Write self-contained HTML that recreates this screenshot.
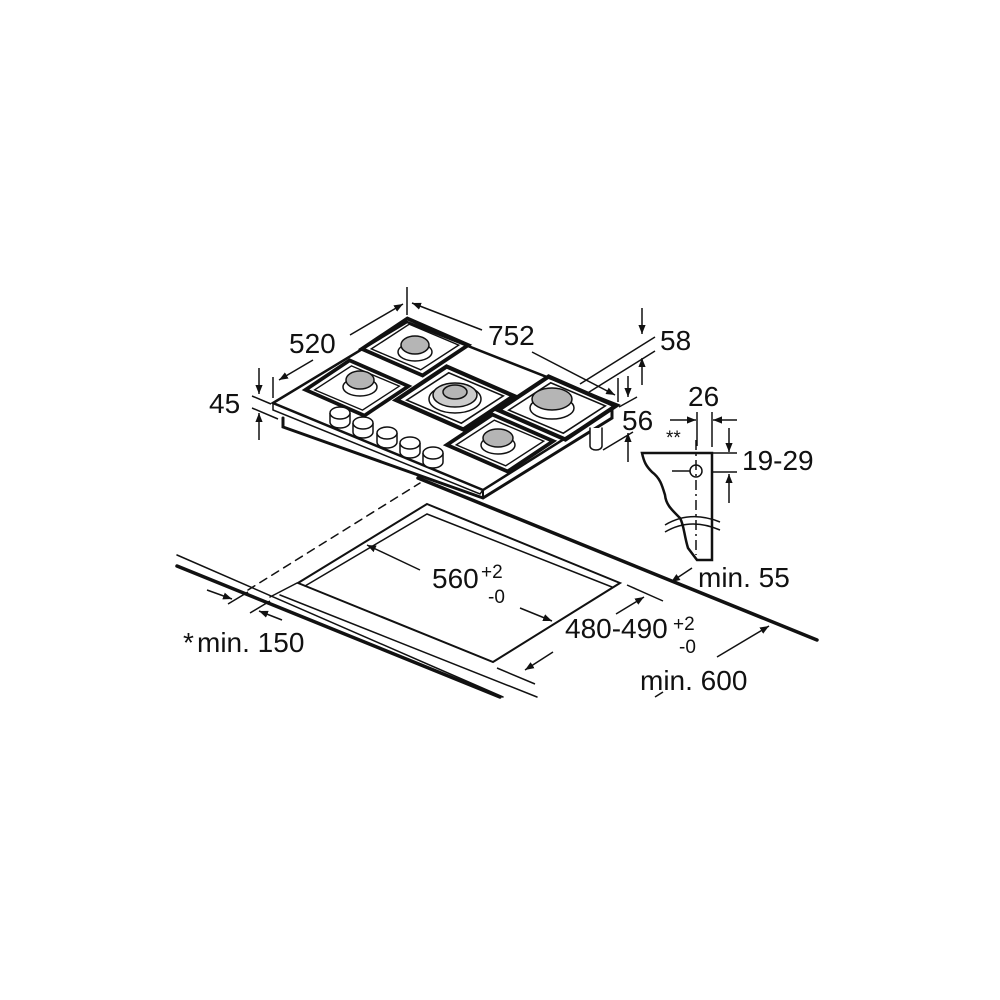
<!DOCTYPE html>
<html><head><meta charset="utf-8"><style>
html,body{margin:0;padding:0;background:#fff}
svg{display:block}
text{font-family:"Liberation Sans",sans-serif;fill:#111}
</style></head><body>
<svg width="1000" height="1000" viewBox="0 0 1000 1000" xmlns="http://www.w3.org/2000/svg">
<defs>
<marker id="ah" viewBox="0 0 10 10" refX="10" refY="5" markerWidth="9" markerHeight="9" orient="auto-start-reverse" markerUnits="userSpaceOnUse">
<path d="M0,1 L10,5 L0,9 Z" fill="#111"/></marker>
<g id="grate">
<polygon points="-56,2 -8,-30 56,-2 8,30" fill="none" stroke="#111" stroke-width="4"/>
<polygon points="-46,2 -6,-24 46,-2 6,24" fill="none" stroke="#111" stroke-width="1.5"/>
</g>
<g id="knob">
<path d="M-10,0 L-10,9 A10,6 0 0 0 10,9 L10,0" fill="#fff" stroke="#111" stroke-width="1.5"/>
<ellipse cx="0" cy="0" rx="10" ry="6" fill="#fff" stroke="#111" stroke-width="1.5"/>
</g>
</defs>
<g stroke="#111" fill="none" stroke-linecap="round">
<line x1="177" y1="555" x2="503" y2="697" stroke-width="1.5"/>
<line x1="177" y1="566" x2="500" y2="697" stroke-width="3.5"/>
<line x1="280" y1="595" x2="537" y2="697" stroke-width="1.5"/>
<line x1="418" y1="478" x2="817" y2="640" stroke-width="3.5"/>
<line x1="248" y1="590" x2="420" y2="483" stroke-width="1.5" stroke-dasharray="8,6"/>
<line x1="270" y1="597" x2="297" y2="583" stroke-width="1.5"/>
<polygon points="427,504 620,583 493,662 298,583" stroke-width="2"/>
<polyline points="305,586 427,514 612,587" stroke-width="1.5"/>
<polygon points="273,403 407,322 618,405 483,490" fill="#fff" stroke-width="2.5"/>
<polyline points="273,403 273,410 480,494 483,490" stroke-width="1.5"/>
<polyline points="283,418 283,427 483,498 612,418 612,410" stroke-width="3"/>
<line x1="483" y1="490" x2="483" y2="498" stroke-width="2"/>
<path d="M590,428 L590,446 A6,4 0 0 0 602,446 L602,428" fill="#fff" stroke-width="1.5"/>
</g>
<use href="#grate" transform="translate(415,347) scale(0.95)"/>
<use href="#grate" transform="translate(357,388) scale(0.92)"/>
<use href="#grate" transform="translate(455,398) scale(1.05)"/>
<use href="#grate" transform="translate(557,408) scale(1.05)"/>
<use href="#grate" transform="translate(500,443) scale(0.95)"/>
<g stroke="#111" stroke-width="1.5">
<ellipse cx="415" cy="352" rx="17" ry="9" fill="#fff"/>
<ellipse cx="415" cy="345" rx="14" ry="9" fill="#b5b5b5"/>
<ellipse cx="360" cy="387" rx="17" ry="9" fill="#fff"/>
<ellipse cx="360" cy="380" rx="14" ry="9" fill="#b5b5b5"/>
<ellipse cx="455" cy="399" rx="26" ry="14" fill="none"/>
<ellipse cx="455" cy="395" rx="22" ry="12" fill="#ccc"/>
<ellipse cx="455" cy="392" rx="12" ry="7" fill="#b5b5b5"/>
<ellipse cx="552" cy="408" rx="22" ry="11" fill="#fff"/>
<ellipse cx="552" cy="399" rx="20" ry="11" fill="#b5b5b5"/>
<ellipse cx="498" cy="445" rx="17" ry="9" fill="#fff"/>
<ellipse cx="498" cy="438" rx="15" ry="9" fill="#b5b5b5"/>
</g>
<use href="#knob" transform="translate(340,413)"/>
<use href="#knob" transform="translate(363,423)"/>
<use href="#knob" transform="translate(387,433)"/>
<use href="#knob" transform="translate(410,443)"/>
<use href="#knob" transform="translate(433,453)"/>
<g stroke="#111" stroke-width="1.5" fill="none">
<line x1="407" y1="287" x2="407" y2="315"/>
<line x1="273" y1="377" x2="273" y2="398"/>
<line x1="313" y1="360" x2="279" y2="380" marker-end="url(#ah)"/>
<line x1="350" y1="335" x2="403" y2="304" marker-end="url(#ah)"/>
<line x1="482" y1="330" x2="412" y2="303" marker-end="url(#ah)"/>
<line x1="532" y1="352" x2="615" y2="395" marker-end="url(#ah)"/>
<line x1="618" y1="378" x2="618" y2="402"/>
<line x1="259" y1="368" x2="259" y2="394" marker-end="url(#ah)"/>
<line x1="259" y1="440" x2="259" y2="413" marker-end="url(#ah)"/>
<line x1="252" y1="396" x2="271" y2="404"/>
<line x1="252" y1="408" x2="278" y2="419"/>
<line x1="642" y1="308" x2="642" y2="334" marker-end="url(#ah)"/>
<line x1="642" y1="385" x2="642" y2="358" marker-end="url(#ah)"/>
<line x1="580" y1="384" x2="655" y2="337"/>
<line x1="586" y1="394" x2="655" y2="351"/>
<line x1="628" y1="376" x2="628" y2="397" marker-end="url(#ah)"/>
<line x1="628" y1="462" x2="628" y2="433" marker-end="url(#ah)"/>
<line x1="619" y1="407" x2="637" y2="397"/>
<line x1="603" y1="450" x2="633" y2="432"/>
<line x1="697" y1="412" x2="697" y2="446"/>
<line x1="712" y1="412" x2="712" y2="447"/>
<line x1="670" y1="420" x2="696" y2="420" marker-end="url(#ah)"/>
<line x1="737" y1="420" x2="713" y2="420" marker-end="url(#ah)"/>
<line x1="712" y1="453" x2="737" y2="453"/>
<line x1="712" y1="472" x2="737" y2="472"/>
<line x1="729" y1="428" x2="729" y2="452" marker-end="url(#ah)"/>
<line x1="729" y1="503" x2="729" y2="474" marker-end="url(#ah)"/>
<path d="M642,453 L712,453 L712,560 L697,560 L688,548 C684,535 684,525 680,518 C672,510 666,505 665,495 C662,485 660,478 652,472 C646,466 644,462 642,453 Z" stroke-width="2.5" fill="#fff"/>
<circle cx="696" cy="471" r="6" stroke-width="1.5"/>
<line x1="672" y1="471" x2="690" y2="471"/>
<line x1="696" y1="440" x2="696" y2="555" stroke-dasharray="10,4,2,4"/>
<path d="M665,525 Q690,510 720,522" stroke-width="1.5"/>
<path d="M665,532 Q690,517 720,530" stroke-width="1.5"/>
<line x1="692" y1="568" x2="671" y2="582" marker-end="url(#ah)"/>
<line x1="420" y1="570" x2="367" y2="545" marker-end="url(#ah)"/>
<line x1="520" y1="608" x2="552" y2="621" marker-end="url(#ah)"/>
<line x1="497" y1="668" x2="535" y2="684"/>
<line x1="627" y1="585" x2="663" y2="601"/>
<line x1="616" y1="614" x2="644" y2="597" marker-end="url(#ah)"/>
<line x1="553" y1="652" x2="525" y2="670" marker-end="url(#ah)"/>
<line x1="717" y1="657" x2="769" y2="626" marker-end="url(#ah)"/>
<line x1="655" y1="697" x2="663" y2="692"/>
<line x1="207" y1="590" x2="232" y2="599" marker-end="url(#ah)"/>
<line x1="282" y1="620" x2="259" y2="611" marker-end="url(#ah)"/>
<line x1="228" y1="604" x2="248" y2="592"/>
<line x1="250" y1="613" x2="270" y2="601"/>
</g>
<g font-size="28">
<text x="289" y="353">520</text>
<text x="488" y="345">752</text>
<text x="209" y="413">45</text>
<text x="660" y="350">58</text>
<text x="622" y="430">56</text>
<text x="688" y="406">26</text>
<text x="742" y="470">19-29</text>
<text x="698" y="587">min. 55</text>
<text x="432" y="588">560</text>
<text x="565" y="638">480-490</text>
<text x="640" y="690">min. 600</text>
<text x="183" y="652">*</text>
<text x="197" y="652">min. 150</text>
</g>
<g font-size="19">
<text x="666" y="444">**</text>
<text x="481" y="578">+2</text>
<text x="488" y="603">-0</text>
<text x="673" y="630">+2</text>
<text x="679" y="653">-0</text>
</g>
</svg>
</body></html>
